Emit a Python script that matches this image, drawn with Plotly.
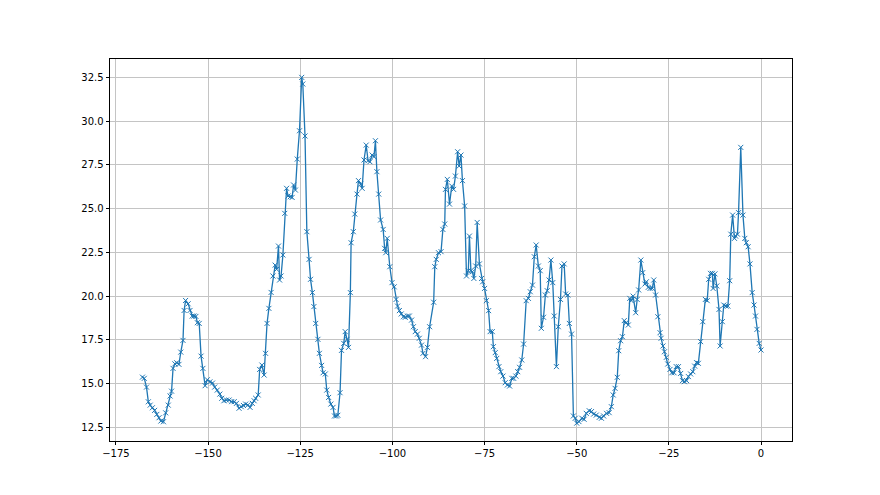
import plotly.graph_objects as go

hours = [
    -167.8, -167.3, -166.7, -166.2, -165.7, -165.1, -164.5, -163.9, -163.3, -162.8,
    -162.1, -161.5, -160.8, -160.3, -159.9, -159.5, -159.0, -158.5, -157.9, -157.4,
    -156.8, -156.5, -156.1, -155.4, -154.9, -154.3, -153.8, -153.3, -152.9, -152.4,
    -151.9, -151.4, -150.8, -150.2, -149.5, -148.8, -148.2,
    -147.5, -146.8, -146.3, -145.7, -145.0, -144.3, -143.6, -142.9, -142.3, -141.6,
    -141.0, -140.4, -139.8, -139.2, -138.6, -138.0, -137.5, -137.1, -136.4, -136.0,
    -135.4, -134.8, -134.4, -134.0, -133.5, -132.9, -132.4, -131.8, -131.4, -130.9,
    -130.6, -130.2, -129.7, -129.2, -128.7, -128.3, -127.7, -127.2, -126.8, -126.3,
    -125.8, -125.2, -124.6, -124.3, -123.7, -123.2, -122.6, -122.2, -121.7, -121.3,
    -120.8, -120.2, -119.8, -119.2, -118.8, -118.2, -117.8, -117.3, -116.7, -116.1,
    -115.7, -115.2, -114.8, -114.2, -113.8, -113.2, -112.8, -112.3, -111.9, -111.4,
    -111.2, -110.6, -110.2, -109.6, -109.2,
    -108.6, -108.2, -107.7, -107.1, -106.6, -106.1, -105.5, -105.0, -104.6, -104.2,
    -103.7, -103.2, -102.5, -102.1, -101.8, -101.4, -100.7, -100.1, -99.5, -99.0,
    -98.6, -98.1, -97.6, -97.0, -96.5, -95.9, -95.4, -94.8, -94.3, -93.8,
    -93.2, -92.7, -92.1, -91.7, -91.0, -90.5, -89.9,
    -88.8, -88.5, -88.1, -87.5, -86.8, -86.3, -85.8, -85.6, -85.1, -84.5,
    -83.9, -83.4, -82.9, -82.3, -81.9, -81.4, -81.0, -80.4, -79.9, -79.4,
    -79.1, -78.7, -78.3, -77.9, -77.4, -77.0, -76.4, -75.8, -75.5, -75.0,
    -74.5, -73.9, -73.5, -72.9, -72.6, -72.1, -71.7, -71.1, -70.6, -70.0,
    -69.4, -68.8, -68.2,
    -67.6, -67.1, -66.5, -66.0, -65.5, -64.9, -64.4, -63.7, -63.1, -62.6,
    -62.0, -61.5, -61.0, -60.4, -59.9, -59.6, -59.0, -58.5, -58.0, -57.5,
    -57.0, -56.5, -56.1, -55.5, -55.0, -54.4, -54.0, -53.4, -53.0, -52.4,
    -52.0, -51.4, -50.9, -50.4, -50.0, -49.4, -48.6, -48.0,
    -47.4, -46.6, -46.0, -45.4, -44.7, -43.9, -43.3, -42.7, -41.9, -41.2,
    -40.6, -40.1, -39.6, -39.0, -38.6, -38.1, -37.6, -37.1, -36.6, -36.0,
    -35.6, -35.2, -34.7, -34.0, -33.6, -33.2, -32.6, -32.1, -31.5, -31.1,
    -30.6, -30.1, -29.5, -29.1, -28.6, -28.0,
    -27.4, -27.1, -26.6, -26.2, -25.7, -25.3, -24.7, -24.2, -23.6, -23.0,
    -22.4, -21.8, -21.3, -20.8, -20.2, -19.7, -19.1, -18.5, -18.0, -17.5,
    -17.0, -16.4, -15.8, -15.1, -14.6, -14.2, -13.7, -13.2, -13.0, -12.5,
    -12.0, -11.4, -11.1, -10.5, -10.1, -9.5,
    -9.0, -8.5, -8.2, -7.7, -7.2, -6.9, -6.4, -6.1, -5.5, -4.9,
    -4.4, -4.0, -3.5, -3.0, -2.4, -1.9, -1.5, -1.1, -0.5, 0.0,
]

values = [
    15.37, 15.30, 14.80, 13.96, 13.77, 13.62, 13.47, 13.24, 13.05, 12.86,
    12.82, 13.33, 13.77, 14.29, 14.57, 15.87, 16.13, 16.19, 16.10, 16.80,
    17.47, 19.18, 19.75, 19.56, 19.18, 18.86, 18.86, 18.84, 18.48, 18.44,
    16.57, 15.87, 14.88, 15.22, 15.10, 15.03, 14.80,
    14.63, 14.40, 14.16, 14.02, 14.06, 14.06, 13.97, 13.97, 13.87, 13.59,
    13.68, 13.75, 13.83, 13.78, 13.64, 13.87, 14.02, 14.16, 14.35, 15.81,
    16.06, 15.49, 16.73, 18.44, 19.30, 20.21, 21.15, 21.77, 21.53, 22.86,
    20.92, 21.15, 22.35, 24.73, 26.16, 25.72, 25.68, 25.64, 26.35, 26.06,
    27.83, 29.45, 32.50, 32.12, 29.15, 23.68, 22.10, 20.96, 20.20, 19.40,
    18.44, 17.53, 16.73, 16.04, 15.62, 15.55, 14.63, 14.21, 13.83, 13.64,
    13.15, 13.15, 13.19, 14.48, 16.90, 17.30, 17.97, 17.53, 17.07, 20.20,
    23.05, 23.68, 24.69, 25.83, 26.60,
    26.40, 26.16, 27.78, 28.63, 27.74, 27.68, 28.06, 27.97, 28.88, 27.11,
    25.83, 24.35, 23.81, 22.73, 22.48, 23.30, 21.68, 20.77, 20.53, 19.81,
    19.43, 19.17, 18.98, 18.82, 18.79, 18.86, 18.86, 18.63, 18.25, 17.97,
    17.83, 17.59, 17.20, 16.73, 16.54, 17.07, 18.25,
    19.65, 21.68, 22.10, 22.48, 22.54, 23.81, 24.12, 26.10, 26.67, 25.26,
    26.29, 26.10, 26.86, 28.25, 27.43, 28.06, 26.60, 25.15, 21.15, 21.45,
    23.43, 21.45, 21.39, 21.01, 21.72, 24.21, 21.84, 21.01, 20.82, 20.44,
    19.74, 19.17, 17.97, 17.97, 17.11, 16.77, 16.44, 15.97, 15.68, 15.43,
    15.05, 14.92, 14.86,
    15.30, 15.30, 15.43, 15.68, 15.93, 16.35, 17.26, 19.74, 19.87, 20.25,
    20.63, 22.25, 22.92, 21.72, 21.45, 18.16, 18.79, 20.06, 20.31, 20.92,
    22.06, 20.77, 18.86, 15.97, 18.25, 19.81, 21.72, 21.84, 20.12, 20.06,
    18.44, 17.83, 13.15, 13.02, 12.74, 12.83, 13.02, 12.96,
    13.30, 13.45, 13.40, 13.26, 13.20, 13.07, 13.02, 13.15, 13.30, 13.34,
    13.68, 14.35, 14.73, 15.36, 16.88, 17.45, 17.68, 18.60, 18.48, 18.35,
    19.87, 19.74, 20.00, 19.05, 19.81, 20.35, 22.06, 21.34, 20.69, 20.82,
    20.50, 20.44, 20.44, 20.92, 20.06, 18.82,
    17.91, 17.59, 17.15, 16.82, 16.50, 16.12, 15.81, 15.62, 15.62, 15.97,
    15.97, 15.58, 15.17, 15.11, 15.17, 15.40, 15.55, 15.68, 16.00, 16.20,
    16.16, 17.40, 18.54, 19.81, 19.74, 20.96, 21.30, 21.30, 20.44, 21.27,
    20.58, 19.24, 17.15, 18.54, 19.49, 19.43,
    19.43, 20.88, 23.54, 24.63, 23.30, 23.43, 23.54, 24.77, 28.50, 24.63,
    23.30, 23.05, 22.82, 21.84, 20.20, 19.49, 18.86, 18.10, 17.30, 16.92,
]

x_ticks = [-175, -150, -125, -100, -75, -50, -25, 0]
y_ticks = [12.5, 15.0, 17.5, 20.0, 22.5, 25.0, 27.5, 30.0, 32.5]

fig = go.Figure()
fig.add_trace(go.Scatter(
    x=hours, y=values, mode="lines+markers",
    line=dict(color="#1f77b4", width=1.3),
    marker=dict(symbol="x-thin", size=5, color="#1f77b4",
                line=dict(width=1, color="#1f77b4")),
    showlegend=False,
))

axis_common = dict(
    showgrid=True, gridcolor="#c4c4c4", gridwidth=0.8,
    zeroline=False, showline=True, linecolor="#000000", linewidth=0.8,
    mirror=True, ticks="outside", ticklen=3.5, tickwidth=0.8, tickcolor="#000000",
    tickfont=dict(family="DejaVu Sans", size=10, color="#000000"),
)

fig.update_xaxes(range=[-176.6, 8.4], tickvals=x_ticks,
                 ticktext=[str(t).replace("-", "\u2212") for t in x_ticks], **axis_common)
fig.update_yaxes(range=[11.72, 33.55], tickvals=y_ticks,
                 ticktext=[f"{t:.1f}" for t in y_ticks], **axis_common)

fig.update_layout(
    width=880, height=495,
    margin=dict(l=102, r=96, t=51, b=62),
    paper_bgcolor="white", plot_bgcolor="white",
)

fig.write_html("out.html")
